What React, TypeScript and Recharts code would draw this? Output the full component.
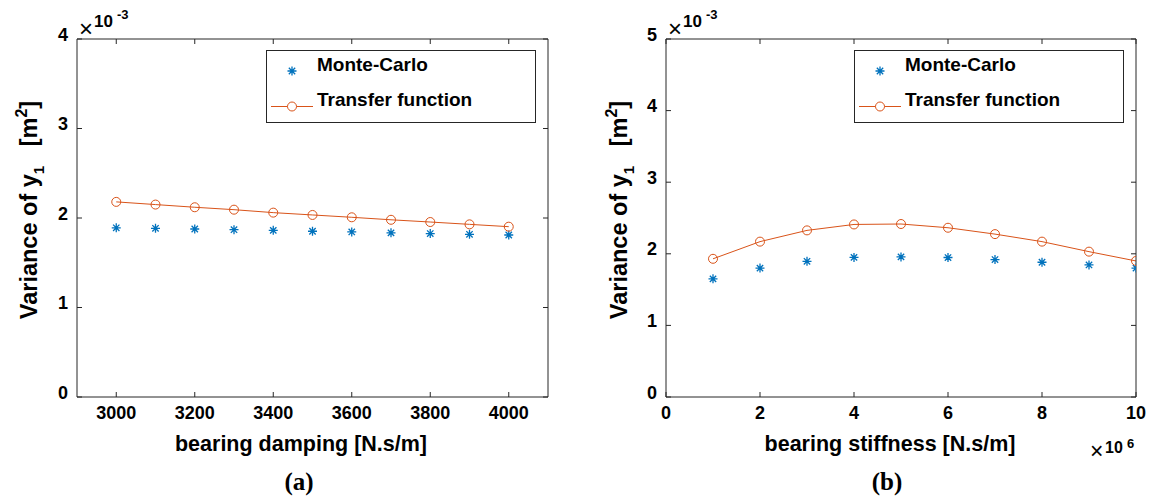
import * as React from "react";
import { ComposedChart, XAxis, YAxis, Line, Scatter, Legend, Label } from "recharts";

// (a) bearing damping sweep, variance values in units of 1e-3 m^2
const dampingValues = [3000, 3100, 3200, 3300, 3400, 3500, 3600, 3700, 3800, 3900, 4000];
const dampingMonteCarlo = [1.89, 1.885, 1.877, 1.869, 1.862, 1.852, 1.844, 1.834, 1.826, 1.818, 1.81];
const dampingTransfer = [2.18, 2.15, 2.12, 2.093, 2.06, 2.034, 2.008, 1.98, 1.955, 1.929, 1.903];
const dampingTicks = [3000, 3200, 3400, 3600, 3800, 4000];
const dampingYTicks = [0, 1, 2, 3, 4];

// (b) bearing stiffness sweep, x in units of 1e6
const stiffnessValues = [1, 2, 3, 4, 5, 6, 7, 8, 9, 10];
const stiffnessMonteCarlo = [1.65, 1.8, 1.895, 1.95, 1.957, 1.948, 1.92, 1.882, 1.844, 1.8];
const stiffnessTransfer = [1.93, 2.17, 2.327, 2.41, 2.416, 2.364, 2.275, 2.17, 2.03, 1.9];
const stiffnessTicks = [0, 2, 4, 6, 8, 10];
const stiffnessYTicks = [0, 1, 2, 3, 4, 5];

const seriesNames = ["Monte-Carlo", "Transfer function"];

const BLUE = "#0072BD";
const ORANGE = "#D95319";
const AXIS = "#262626";
const SANS = "'Liberation Sans', Arial, Helvetica, sans-serif";
const SERIF = "'Liberation Serif', 'Times New Roman', serif";
const TICK = 5;
const PLOT_TOP = 39;
const PLOT_BOTTOM = 397;
const HEIGHT = 501;

function Asterisk(props: any) {
  const { cx, cy } = props;
  const r = 4.5;
  const d = r * 0.707;
  return (
    <path
      d={`M${cx - r},${cy}H${cx + r}M${cx},${cy - r}V${cy + r}M${cx - d},${cy - d}L${cx + d},${cy + d}M${cx - d},${cy + d}L${cx + d},${cy - d}`}
      stroke={BLUE}
      strokeWidth={1.3}
      fill="none"
    />
  );
}

const tickText = { fontSize: 18, fontWeight: "bold" as const, fontFamily: SANS, fill: "#000" };

function BottomTick(props: any) {
  const { x, y, payload } = props;
  return (
    <g>
      <line x1={x} y1={y} x2={x} y2={y - TICK} stroke={AXIS} />
      <text x={x} y={y + 22} textAnchor="middle" {...tickText}>{payload.value}</text>
    </g>
  );
}

function TopTick(props: any) {
  const { x, y } = props;
  return <line x1={x} y1={y} x2={x} y2={y + TICK} stroke={AXIS} />;
}

function LeftTick(props: any) {
  const { x, y, payload } = props;
  return (
    <g>
      <line x1={x} y1={y} x2={x + TICK} y2={y} stroke={AXIS} />
      <text x={x - 9} y={y + 1.5} textAnchor="end" {...tickText}>{payload.value}</text>
    </g>
  );
}

function RightTick(props: any) {
  const { x, y } = props;
  return <line x1={x} y1={y} x2={x - TICK} y2={y} stroke={AXIS} />;
}

function LegendBox() {
  return (
    <svg width={270} height={73} style={{ display: "block" }}>
      <rect x={0.5} y={0.5} width={269} height={72} fill="#fff" stroke={AXIS} />
      <Asterisk cx={26} cy={21} />
      <text x={51} y={21} fontSize={19} fontWeight="bold" fontFamily={SANS}>{seriesNames[0]}</text>
      <line x1={5} x2={47} y1={56.5} y2={56.5} stroke={ORANGE} />
      <circle cx={26} cy={56.5} r={4.5} fill="#fff" stroke={ORANGE} />
      <text x={51} y={56} fontSize={19} fontWeight="bold" fontFamily={SANS}>{seriesNames[1]}</text>
    </svg>
  );
}

type PanelProps = {
  left: number;
  width: number;
  plotLeft: number;
  plotRight: number;
  xs: number[];
  monteCarlo: number[];
  transfer: number[];
  xDomain: [number, number];
  xTicks: number[];
  yTicks: number[];
  xTitle: string;
  xTitleCenter: number;
  subtitle: string;
  subtitleCenter: number;
  yTitleX: number;
  xExponent: boolean;
};

function Panel(p: PanelProps) {
  const data = p.xs.map((x, i) => ({ x, mc: p.monteCarlo[i], tf: p.transfer[i] }));
  const yDomain: [number, number] = [0, p.yTicks[p.yTicks.length - 1]];
  const o = p.left; // page -> svg offset
  const yTitleY = 210;
  const ax = p.plotLeft - o;
  return (
    <div style={{ position: "absolute", left: p.left, top: 0 }}>
      <ComposedChart
        width={p.width}
        height={HEIGHT}
        data={data}
        margin={{
          top: PLOT_TOP - 1,
          bottom: HEIGHT - PLOT_BOTTOM - 30,
          left: p.plotLeft - o - 60,
          right: o + p.width - p.plotRight - 1,
        }}
      >
        <XAxis
          dataKey="x"
          type="number"
          domain={p.xDomain}
          ticks={p.xTicks}
          interval={0}
          allowDataOverflow
          height={30}
          tickSize={0}
          tickMargin={0}
          tickLine={false}
          tick={<BottomTick />}
          axisLine={{ stroke: AXIS }}
        >
          <Label
            content={() => (
              <text x={p.xTitleCenter - o} y={451} textAnchor="middle" fontSize={21.5} fontWeight="bold" fontFamily={SANS}>
                {p.xTitle}
              </text>
            )}
          />
          <Label
            content={() => (
              <text x={p.subtitleCenter - o} y={490} textAnchor="middle" fontSize={25} fontWeight="bold" fontFamily={SERIF}>
                {p.subtitle}
              </text>
            )}
          />
          {p.xExponent && (
            <Label
              content={() => (
                <text y={459} fontFamily={SANS} fill="#000">
                  <tspan x={1090 - o} fontSize={23}>×</tspan>
                  <tspan x={1105 - o} dy={-6} fontSize={16} fontWeight="bold">10</tspan>
                  <tspan x={1127 - o} dy={-5} fontSize={13} fontWeight="bold">6</tspan>
                </text>
              )}
            />
          )}
        </XAxis>
        <XAxis
          xAxisId="top"
          orientation="top"
          dataKey="x"
          type="number"
          domain={p.xDomain}
          ticks={p.xTicks}
          interval={0}
          allowDataOverflow
          height={1}
          tickSize={0}
          tickMargin={0}
          tickLine={false}
          tick={<TopTick />}
          axisLine={{ stroke: AXIS }}
        />
        <YAxis
          type="number"
          domain={yDomain}
          ticks={p.yTicks}
          interval={0}
          allowDataOverflow
          width={60}
          tickSize={0}
          tickMargin={0}
          tickLine={false}
          tick={<LeftTick />}
          axisLine={{ stroke: AXIS }}
        >
          <Label
            content={() => (
              <text
                x={p.yTitleX - o}
                y={yTitleY}
                transform={`rotate(-90 ${p.yTitleX - o} ${yTitleY})`}
                textAnchor="middle"
                fontSize={23.5}
                fontWeight="bold"
                fontFamily={SANS}
                style={{ whiteSpace: "pre" }}
              >
                Variance of y
                <tspan dy={7} fontSize={15}>1</tspan>
                <tspan dy={-7}>{"   [m"}</tspan>
                <tspan dy={-10} fontSize={16}>2</tspan>
                <tspan dy={10}>]</tspan>
              </text>
            )}
          />
          <Label
            content={() => (
              <text y={37} fontFamily={SANS} fill="#000">
                <tspan x={ax + 2} fontSize={24}>×</tspan>
                <tspan x={ax + 17} dy={-10} fontSize={17} fontWeight="bold">10</tspan>
                <tspan x={ax + 40} dy={-8} fontSize={13} fontWeight="bold">-3</tspan>
              </text>
            )}
          />
        </YAxis>
        <YAxis
          yAxisId="right"
          orientation="right"
          type="number"
          domain={yDomain}
          ticks={p.yTicks}
          interval={0}
          allowDataOverflow
          width={1}
          tickSize={0}
          tickMargin={0}
          tickLine={false}
          tick={<RightTick />}
          axisLine={{ stroke: AXIS }}
        />
        <Legend
          layout="vertical"
          align="center"
          verticalAlign="middle"
          wrapperStyle={{ left: p.plotRight - o - 282, top: 50, width: 270, height: 73 }}
          content={() => <LegendBox />}
        />
        <Scatter name={seriesNames[0]} dataKey="mc" fill={BLUE} shape={<Asterisk />} isAnimationActive={false} />
        <Line
          name={seriesNames[1]}
          type="linear"
          dataKey="tf"
          stroke={ORANGE}
          strokeWidth={1}
          dot={{ r: 4.5, stroke: ORANGE, strokeWidth: 1, fill: "none" }}
          activeDot={false}
          isAnimationActive={false}
        />
      </ComposedChart>
    </div>
  );
}

export default function App() {
  return (
    <div style={{ position: "absolute", left: 0, top: 0, width: 1151, height: HEIGHT, background: "#fff" }}>
      <Panel
        left={0}
        width={580}
        plotLeft={77}
        plotRight={548}
        xs={dampingValues}
        monteCarlo={dampingMonteCarlo}
        transfer={dampingTransfer}
        xDomain={[2900, 4100]}
        xTicks={dampingTicks}
        yTicks={dampingYTicks}
        xTitle="bearing damping [N.s/m]"
        xTitleCenter={301}
        subtitle="(a)"
        subtitleCenter={299}
        yTitleX={37}
        xExponent={false}
      />
      <Panel
        left={580}
        width={571}
        plotLeft={666}
        plotRight={1136}
        xs={stiffnessValues}
        monteCarlo={stiffnessMonteCarlo}
        transfer={stiffnessTransfer}
        xDomain={[0, 10]}
        xTicks={stiffnessTicks}
        yTicks={stiffnessYTicks}
        xTitle="bearing stiffness [N.s/m]"
        xTitleCenter={890}
        subtitle="(b)"
        subtitleCenter={887}
        yTitleX={627}
        xExponent={true}
      />
    </div>
  );
}
